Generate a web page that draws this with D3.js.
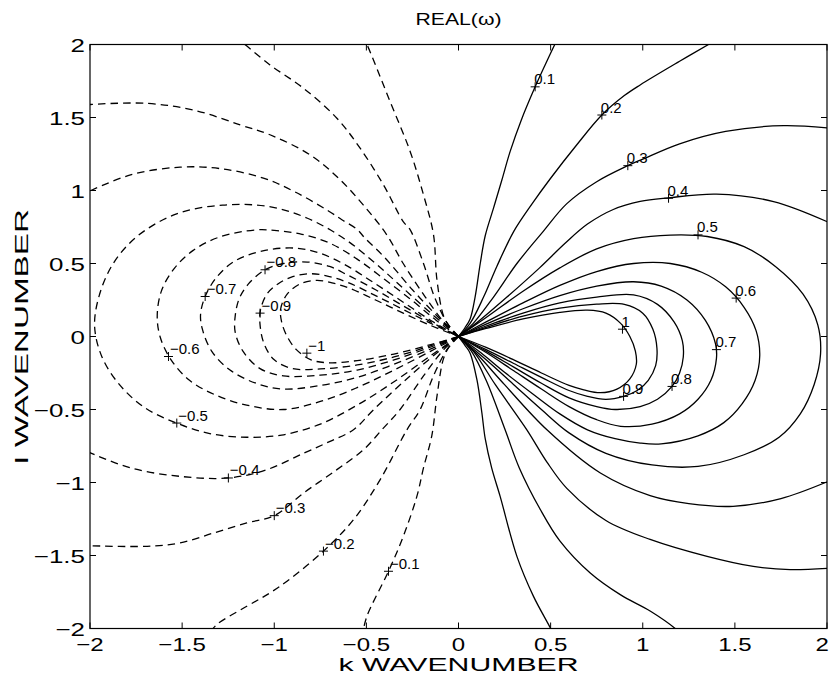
<!DOCTYPE html>
<html><head><meta charset="utf-8">
<script src="https://cdn.jsdelivr.net/npm/d3@7"></script>
<style>body{margin:0;background:#fff}</style>
</head><body>
<svg id="chart" width="830" height="685"></svg>
<script>
const xTicks = [-2,-1.5,-1,-0.5,0,0.5,1,1.5,2];
const yTicks = [-2,-1.5,-1,-0.5,0,0.5,1,1.5,2];
const titleText = "REAL(\u03c9)";
const xLabel = "k WAVENUMBER";
const yLabel = "l WAVENUMBER";

// positive contours (solid): branches of [k, l]
const pos01 = [
 [[0,0],[0.035,0.06],[0.063,0.12],[0.09,0.27],[0.118,0.50],[0.145,0.69],[0.19,0.879],[0.235,1.07],[0.28,1.266],[0.34,1.48],[0.416,1.71],[0.47,1.86],[0.53,2.02]],
 [[0,0],[0.035,-0.06],[0.063,-0.114],[0.10,-0.296],[0.127,-0.524],[0.145,-0.70],[0.18,-0.90],[0.226,-1.095],[0.317,-1.506],[0.407,-1.78],[0.50,-2.0],[0.51,-2.03]]];
const pos02 = [
 [[0,0],[0.063,0.09],[0.136,0.27],[0.208,0.48],[0.30,0.72],[0.40,0.91],[0.50,1.084],[0.64,1.31],[0.778,1.517],[0.90,1.65],[0.986,1.723],[1.2,1.885],[1.357,2.0],[1.4,2.03]],
 [[0,0],[0.07,-0.10],[0.15,-0.30],[0.253,-0.639],[0.33,-0.90],[0.444,-1.185],[0.55,-1.40],[0.715,-1.62],[0.88,-1.77],[1.04,-1.88],[1.176,-2.0],[1.2,-2.03]]];
const pos03 = [
 [[0,0],[0.08,0.09],[0.19,0.27],[0.317,0.50],[0.46,0.72],[0.588,0.91],[0.75,1.06],[0.919,1.17],[1.0,1.215],[1.2,1.32],[1.45,1.405],[1.765,1.444],[2.03,1.425]],
 [[0,0],[0.08,-0.10],[0.2,-0.33],[0.371,-0.639],[0.48,-0.86],[0.588,-1.04],[0.8,-1.26],[1.04,-1.39],[1.349,-1.506],[1.6,-1.575],[1.80,-1.597],[2.03,-1.585]]];
const pos04 = [
 [[0,0],[0.1,0.095],[0.263,0.27],[0.44,0.47],[0.58,0.64],[0.70,0.77],[0.84,0.87],[0.986,0.925],[1.14,0.95],[1.40,0.975],[1.71,0.924],[2.03,0.77]],
 [[0,0],[0.1,-0.12],[0.25,-0.33],[0.48,-0.639],[0.77,-0.935],[1.04,-1.09],[1.25,-1.145],[1.49,-1.163],[1.75,-1.11],[2.03,-0.98]]];
const pos05 = [[[0,0],[0.15,0.13],[0.35,0.31],[0.55,0.47],[0.75,0.60],[0.95,0.67],[1.15,0.695],[1.35,0.685],[1.55,0.615],[1.72,0.48],[1.87,0.29],[1.95,0.08],[1.965,-0.12],[1.93,-0.33],[1.855,-0.53],[1.74,-0.69],[1.55,-0.81],[1.3,-0.89],[1.05,-0.88],[0.8,-0.80],[0.6,-0.66],[0.45,-0.50],[0.3,-0.33],[0.15,-0.16],[0,0]]];
const pos06 = [[[0,0],[0.15,0.10],[0.35,0.23],[0.55,0.35],[0.75,0.445],[0.95,0.50],[1.15,0.50],[1.32,0.44],[1.45,0.34],[1.55,0.20],[1.615,0.04],[1.635,-0.13],[1.61,-0.30],[1.54,-0.46],[1.44,-0.59],[1.3,-0.68],[1.1,-0.735],[0.986,-0.73],[0.85,-0.70],[0.70,-0.639],[0.55,-0.53],[0.4,-0.39],[0.25,-0.245],[0.12,-0.11],[0,0]]];
const pos07 = [[[0,0],[0.15,0.085],[0.35,0.19],[0.55,0.28],[0.75,0.345],[0.95,0.375],[1.1,0.345],[1.24,0.25],[1.34,0.11],[1.395,-0.05],[1.40,-0.15],[1.37,-0.30],[1.30,-0.43],[1.2,-0.53],[1.05,-0.60],[0.88,-0.615],[0.75,-0.57],[0.6,-0.48],[0.45,-0.36],[0.3,-0.235],[0.15,-0.11],[0,0]]];
const pos08 = [[[0,0],[0.15,0.072],[0.35,0.16],[0.55,0.23],[0.75,0.27],[0.95,0.285],[1.08,0.22],[1.17,0.10],[1.215,-0.03],[1.22,-0.14],[1.20,-0.25],[1.159,-0.342],[1.08,-0.43],[0.986,-0.48],[0.85,-0.50],[0.75,-0.48],[0.6,-0.42],[0.45,-0.32],[0.3,-0.21],[0.15,-0.10],[0,0]]];
const pos09 = [[[0,0],[0.15,0.063],[0.35,0.14],[0.55,0.195],[0.75,0.222],[0.9,0.22],[1.0,0.16],[1.055,0.05],[1.077,-0.08],[1.07,-0.20],[1.03,-0.30],[0.97,-0.37],[0.896,-0.41],[0.8,-0.43],[0.7,-0.41],[0.6,-0.37],[0.45,-0.28],[0.3,-0.185],[0.15,-0.09],[0,0]]];
const pos10 = [[[0,0],[0.15,0.055],[0.35,0.12],[0.55,0.165],[0.7,0.18],[0.8,0.16],[0.88,0.09],[0.93,0.0],[0.96,-0.10],[0.965,-0.19],[0.93,-0.29],[0.86,-0.36],[0.77,-0.385],[0.68,-0.365],[0.6,-0.335],[0.45,-0.25],[0.3,-0.16],[0.15,-0.075],[0,0]]];

// negative contours (dashed)
const neg01 = [
 [[0,0],[-0.05,0.07],[-0.081,0.14],[-0.117,0.388],[-0.136,0.70],[-0.19,0.97],[-0.262,1.266],[-0.371,1.608],[-0.497,2.0],[-0.51,2.03]],
 [[0,0],[-0.05,-0.07],[-0.081,-0.15],[-0.117,-0.41],[-0.145,-0.68],[-0.19,-0.90],[-0.226,-1.095],[-0.30,-1.37],[-0.38,-1.608],[-0.497,-1.916],[-0.52,-2.03]]];
const neg02 = [
 [[0,0],[-0.06,0.09],[-0.13,0.27],[-0.19,0.50],[-0.262,0.73],[-0.30,0.787],[-0.407,1.038],[-0.534,1.29],[-0.66,1.495],[-0.841,1.70],[-1.023,1.86],[-1.16,2.0],[-1.19,2.03]],
 [[0,0],[-0.063,-0.09],[-0.136,-0.27],[-0.208,-0.50],[-0.28,-0.639],[-0.425,-0.98],[-0.57,-1.255],[-0.733,-1.47],[-0.914,-1.66],[-1.023,-1.756],[-1.149,-1.848],[-1.312,-1.973],[-1.35,-2.03]]];
const neg03 = [
 [[0,0],[-0.08,0.10],[-0.18,0.27],[-0.30,0.50],[-0.389,0.696],[-0.516,0.90],[-0.651,1.084],[-0.805,1.244],[-1.02,1.38],[-1.185,1.449],[-1.42,1.545],[-1.69,1.597],[-2.03,1.587]],
 [[0,0],[-0.08,-0.09],[-0.19,-0.27],[-0.317,-0.50],[-0.416,-0.639],[-0.516,-0.776],[-0.66,-0.912],[-0.841,-1.072],[-1.0,-1.227],[-1.149,-1.277],[-1.33,-1.346],[-1.511,-1.414],[-1.69,-1.437],[-2.03,-1.432]]];
const neg04 = [
 [[0,0],[-0.1,0.12],[-0.25,0.32],[-0.40,0.54],[-0.507,0.673],[-0.552,0.735],[-0.633,0.80],[-0.706,0.86],[-0.887,0.99],[-1.059,1.085],[-1.294,1.15],[-1.511,1.16],[-1.78,1.107],[-2.03,0.98]],
 [[0,0],[-0.1,-0.095],[-0.263,-0.27],[-0.46,-0.50],[-0.57,-0.639],[-0.697,-0.718],[-0.841,-0.80],[-1.04,-0.912],[-1.249,-0.969],[-1.511,-0.958],[-1.78,-0.90],[-2.03,-0.78]]];
const neg05 = [[[0,0],[-0.15,-0.13],[-0.35,-0.31],[-0.55,-0.47],[-0.75,-0.60],[-0.96,-0.675],[-1.15,-0.69],[-1.35,-0.665],[-1.53,-0.593],[-1.70,-0.49],[-1.84,-0.33],[-1.935,-0.14],[-1.975,0.07],[-1.95,0.28],[-1.873,0.502],[-1.74,0.69],[-1.53,0.84],[-1.28,0.90],[-1.03,0.89],[-0.82,0.81],[-0.62,0.67],[-0.45,0.50],[-0.3,0.33],[-0.15,0.16],[0,0]]];
const neg06 = [[[0,0],[-0.15,-0.10],[-0.35,-0.23],[-0.55,-0.35],[-0.75,-0.445],[-0.95,-0.50],[-1.15,-0.47],[-1.32,-0.40],[-1.46,-0.30],[-1.56,-0.16],[-1.62,0.0],[-1.635,0.15],[-1.61,0.32],[-1.54,0.47],[-1.44,0.59],[-1.3,0.68],[-1.1,0.73],[-0.986,0.725],[-0.85,0.70],[-0.70,0.64],[-0.55,0.53],[-0.4,0.39],[-0.25,0.245],[-0.12,0.11],[0,0]]];
const neg07 = [[[0,0],[-0.15,-0.085],[-0.35,-0.19],[-0.55,-0.28],[-0.75,-0.335],[-0.95,-0.36],[-1.1,-0.32],[-1.24,-0.23],[-1.34,-0.10],[-1.39,0.05],[-1.40,0.15],[-1.375,0.274],[-1.31,0.41],[-1.21,0.52],[-1.05,0.59],[-0.88,0.605],[-0.75,0.57],[-0.6,0.48],[-0.45,0.36],[-0.3,0.235],[-0.15,0.11],[0,0]]];
const neg08 = [[[0,0],[-0.15,-0.072],[-0.35,-0.16],[-0.55,-0.23],[-0.75,-0.265],[-0.95,-0.27],[-1.077,-0.22],[-1.17,-0.10],[-1.212,0.03],[-1.212,0.14],[-1.19,0.26],[-1.14,0.36],[-1.05,0.457],[-0.95,0.50],[-0.82,0.51],[-0.7,0.48],[-0.6,0.42],[-0.45,0.32],[-0.3,0.21],[-0.15,0.10],[0,0]]];
const neg09 = [[[0,0],[-0.15,-0.063],[-0.35,-0.14],[-0.55,-0.195],[-0.75,-0.222],[-0.9,-0.22],[-1.0,-0.16],[-1.055,-0.05],[-1.077,0.08],[-1.075,0.18],[-1.04,0.29],[-0.98,0.36],[-0.90,0.41],[-0.8,0.43],[-0.7,0.41],[-0.6,0.37],[-0.45,0.28],[-0.3,0.185],[-0.15,0.09],[0,0]]];
const neg10 = [[[0,0],[-0.15,-0.055],[-0.35,-0.12],[-0.55,-0.165],[-0.7,-0.18],[-0.8,-0.16],[-0.88,-0.09],[-0.93,0.0],[-0.96,0.10],[-0.965,0.19],[-0.93,0.29],[-0.86,0.36],[-0.77,0.385],[-0.68,0.365],[-0.6,0.335],[-0.45,0.25],[-0.3,0.16],[-0.15,0.075],[0,0]]];

// contour labels
const labelText = ["0.1","0.2","0.3","0.4","0.5","0.6","0.7","0.8","0.9","1",
  "\u22120.1","\u22120.2","\u22120.3","\u22120.4","\u22120.5","\u22120.6","\u22120.7","\u22120.8","\u22120.9","\u22121"];
const labelK = [0.416,0.778,0.919,1.14,1.30,1.507,1.40,1.159,0.896,0.89,
  -0.38,-0.733,-1.0,-1.249,-1.529,-1.574,-1.375,-1.05,-1.077,-0.823];
const labelL = [1.71,1.517,1.170,0.947,0.696,0.263,-0.09,-0.342,-0.41,0.05,
  -1.608,-1.47,-1.227,-0.969,-0.593,-0.137,0.274,0.457,0.16,-0.114];

const solidSet = [pos01,pos02,pos03,pos04,pos05,pos06,pos07,pos08,pos09,pos10];
const dashedSet = [neg01,neg02,neg03,neg04,neg05,neg06,neg07,neg08,neg09,neg10];

const svg = d3.select("#chart");
const L = 90, R = 827, T = 44.5, B = 628.5;
const x = d3.scaleLinear().domain([-2,2]).range([L,R]);
const y = d3.scaleLinear().domain([-2,2]).range([B,T]);
const font = "'Liberation Sans', Arial, Helvetica, sans-serif";

svg.append("rect").attr("width",830).attr("height",685).attr("fill","#fff");
svg.append("defs").append("clipPath").attr("id","clip")
  .append("rect").attr("x",L).attr("y",T).attr("width",R-L).attr("height",B-T);

const line = d3.line().x(d=>x(d[0])).y(d=>y(d[1])).curve(d3.curveCatmullRom.alpha(0.5));
const g = svg.append("g").attr("clip-path","url(#clip)");
solidSet.forEach(set => set.forEach(br => {
  g.append("path").attr("d",line(br)).attr("fill","none").attr("stroke","#000").attr("stroke-width",1.3);
}));
dashedSet.forEach(set => set.forEach(br => {
  g.append("path").attr("d",line(br)).attr("fill","none").attr("stroke","#000").attr("stroke-width",1.3)
   .attr("stroke-dasharray","7.5,5");
}));

function wideText(sel, stretch){
  const w = sel.node().getComputedTextLength();
  sel.attr("textLength", w*stretch).attr("lengthAdjust","spacingAndGlyphs");
  return sel;
}

// contour labels
const lg = svg.append("g");
labelText.forEach((t,i) => {
  const px = x(labelK[i]), py = y(labelL[i]);
  lg.append("path").attr("d",`M${px-4.5},${py}H${px+4.5}M${px},${py-4.5}V${py+4.5}`)
    .attr("stroke","#000").attr("stroke-width",1);
  lg.append("text").attr("x",px+(t.startsWith("\u2212")?1.5:-1)).attr("y",py-2.5)
    .attr("font-family",font).attr("font-size",15).text(t);
});

// axes box and ticks
const ax = svg.append("g");
ax.append("rect").attr("x",L).attr("y",T).attr("width",R-L).attr("height",B-T)
  .attr("fill","none").attr("stroke","#000").attr("stroke-width",1.2);
const tl = 6;
const fmt = v => v<0 ? "\u2212"+Math.abs(v) : String(v);
xTicks.forEach((v,i) => {
  ax.append("line").attr("x1",x(v)).attr("x2",x(v)).attr("y1",B).attr("y2",B-tl).attr("stroke","#000");
  ax.append("line").attr("x1",x(v)).attr("x2",x(v)).attr("y1",T).attr("y2",T+tl).attr("stroke","#000");
  const last = i === xTicks.length-1;
  const t = ax.append("text").attr("x", last ? 829 : x(v)).attr("y",B+22)
    .attr("text-anchor", last ? "end" : "middle")
    .attr("font-family",font).attr("font-size",18.5).text(fmt(v));
  wideText(t,1.3);
});
yTicks.forEach(v => {
  ax.append("line").attr("y1",y(v)).attr("y2",y(v)).attr("x1",L).attr("x2",L+tl).attr("stroke","#000");
  ax.append("line").attr("y1",y(v)).attr("y2",y(v)).attr("x1",R).attr("x2",R-tl).attr("stroke","#000");
  const t = ax.append("text").attr("x",L-5).attr("y",y(v)+7).attr("text-anchor","end")
    .attr("font-family",font).attr("font-size",18.5).text(fmt(v));
  wideText(t,1.4);
});
const xl = svg.append("text").attr("x",(L+R)/2).attr("y",B+42).attr("text-anchor","middle")
  .attr("font-family",font).attr("font-size",18).text(xLabel);
xl.attr("textLength",240).attr("lengthAdjust","spacingAndGlyphs");
const yl = svg.append("text").attr("transform",`translate(28,${(T+B)/2}) rotate(-90)`).attr("text-anchor","middle")
  .attr("font-family",font).attr("font-size",18).text(yLabel);
yl.attr("textLength",255).attr("lengthAdjust","spacingAndGlyphs");
const tt = svg.append("text").attr("x",(L+R)/2).attr("y",25).attr("text-anchor","middle")
  .attr("font-family",font).attr("font-size",16.5).text(titleText);
tt.attr("textLength",86).attr("lengthAdjust","spacingAndGlyphs");
</script>
</body></html>
